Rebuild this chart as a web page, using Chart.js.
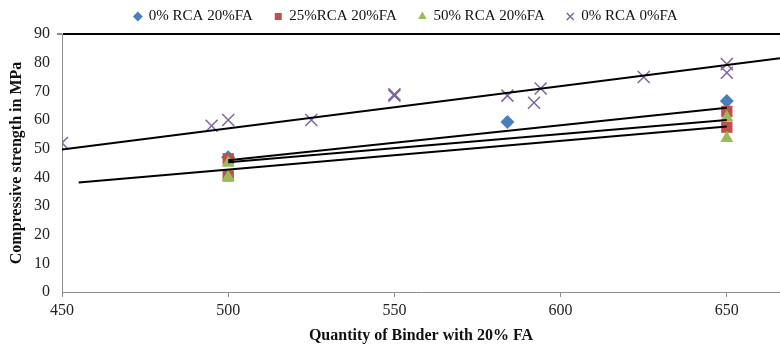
<!DOCTYPE html>
<html>
<head>
<meta charset="utf-8">
<script src="https://cdn.jsdelivr.net/npm/chart.js@4"></script>
<style>
  html, body { margin: 0; padding: 0; background: #fff; }
  #wrap { width: 780px; height: 345px; }
</style>
</head>
<body>
<div id="wrap"><canvas id="strengthChart" width="780" height="345"></canvas></div>
<script>
// Compressive strength vs binder quantity

const seriesNames = ['0% RCA 20%FA', '25%RCA 20%FA', '50% RCA 20%FA', '0% RCA 0%FA'];

// 0% RCA 20%FA (diamonds)
const rca0fa20X = [500, 584, 650];
const rca0fa20Y = [47, 59.3, 66.6];

// 25%RCA 20%FA (squares)
const rca25fa20X = [500, 500, 650, 650];
const rca25fa20Y = [46.5, 40.5, 63, 57.5];

// 50% RCA 20%FA (triangles)
const rca50fa20X = [500, 500, 650, 650];
const rca50fa20Y = [45, 40, 61, 53.6];

// 0% RCA 0%FA (crosses)
const rca0fa0X = [450, 495, 500, 525, 550, 550, 584, 592, 594, 625, 650, 650];
const rca0fa0Y = [52, 58, 60, 60, 68.5, 69, 68.5, 66, 71, 75, 76.5, 79.5];

// linear trendlines (start / end) as drawn in the picture
const trendStartX = [500, 500, 455, 450];
const trendStartY = [46, 45.3, 38.2, 49.7];
const trendEndX = [650, 650, 650, 666];
const trendEndY = [64.3, 60.0, 57.7, 81.5];

const xTicks = [450, 500, 550, 600, 650];
const yTicks = [0, 10, 20, 30, 40, 50, 60, 70, 80, 90];

const pairs = (xs, ys) => xs.map((x, i) => ({ x: x, y: ys[i] }));

// later series sit on top of earlier ones (higher order = drawn first)
const markerSets = [
    { xs: rca0fa20X, ys: rca0fa20Y, style: 'rectRot', color: '#4a7ebb', radius: 7, order: 5 },
    { xs: rca25fa20X, ys: rca25fa20Y, style: 'rect', color: '#c0504d', radius: 8, order: 4 },
    { xs: rca50fa20X, ys: rca50fa20Y, style: 'triangle', color: '#9bbb59', radius: 7.5, order: 3 },
    { xs: rca0fa0X, ys: rca0fa0Y, style: 'crossRot', color: '#8064a2', radius: 8.5, order: 2 }
];

const datasets = markerSets.map((s, i) => ({
    type: 'scatter',
    label: seriesNames[i],
    data: pairs(s.xs, s.ys),
    pointStyle: s.style,
    pointRadius: s.radius,
    pointHoverRadius: s.radius,
    backgroundColor: s.color,
    borderColor: s.color,
    borderWidth: s.style === 'crossRot' ? 1.5 : 0,
    order: s.order
}));

trendStartX.forEach((x0, i) => {
    datasets.push({
        type: 'line',
        label: 'trend' + i,
        data: [{ x: x0, y: trendStartY[i] }, { x: trendEndX[i], y: trendEndY[i] }],
        borderColor: '#000',
        borderWidth: 2,
        pointRadius: 0,
        fill: false,
        order: 1
    });
});

const serif = '"Liberation Serif", "DejaVu Serif", serif';

// nudge the legend a little to the right, as in the original
const legendShift = {
    id: 'legendShift',
    afterLayout(chart) {
        chart.legend.left += 16;
        chart.legend.right += 16;
    }
};

new Chart(document.getElementById('strengthChart').getContext('2d'), {
    data: { datasets: datasets },
    options: {
        responsive: false,
        animation: false,
        layout: { autoPadding: false, padding: { left: 0, right: 0, top: -13, bottom: 0 } },
        scales: {
            x: {
                type: 'linear',
                min: 450,
                max: 666,
                afterBuildTicks: (scale) => { scale.ticks = xTicks.map(v => ({ value: v })); },
                afterFit: (scale) => { scale.paddingLeft = 0; scale.paddingRight = 0; scale.height = 53; },
                grid: { drawOnChartArea: false, color: '#8c8c8c', tickLength: 5 },
                border: { color: '#8c8c8c', width: 1 },
                ticks: { color: '#222', font: { family: serif, size: 16 }, padding: 4, maxRotation: 0 },
                title: {
                    display: true,
                    text: 'Quantity of Binder with 20% FA',
                    color: '#111',
                    font: { family: serif, size: 16, weight: 'bold' },
                    padding: { top: 4, bottom: 0 }
                }
            },
            y: {
                min: 0,
                max: 90,
                afterBuildTicks: (scale) => { scale.ticks = yTicks.map(v => ({ value: v })); },
                afterFit: (scale) => { scale.width = 62; },
                grid: {
                    color: (ctx) => (ctx.tick && ctx.tick.value === 90 ? '#000' : 'rgba(0,0,0,0)'),
                    lineWidth: (ctx) => (ctx.tick && ctx.tick.value === 90 ? 2 : 0),
                    tickColor: '#8c8c8c',
                    tickLength: 5
                },
                border: { color: '#8c8c8c', width: 1 },
                ticks: { color: '#222', font: { family: serif, size: 16 }, padding: 7 },
                title: {
                    display: true,
                    text: 'Compressive strength in MPa',
                    color: '#111',
                    font: { family: serif, size: 16, weight: 'bold' },
                    padding: { top: 7, bottom: 4 }
                }
            }
        },
        plugins: {
            legend: {
                position: 'top',
                labels: {
                    usePointStyle: true,
                    boxWidth: 7,
                    boxHeight: 7,
                    padding: 22,
                    color: '#111',
                    font: { family: serif, size: 15 },
                    filter: (item) => item.datasetIndex < 4,
                    sort: (a, b) => a.datasetIndex - b.datasetIndex
                }
            },
            tooltip: { enabled: false }
        }
    },
    plugins: [legendShift]
});
</script>
</body>
</html>
